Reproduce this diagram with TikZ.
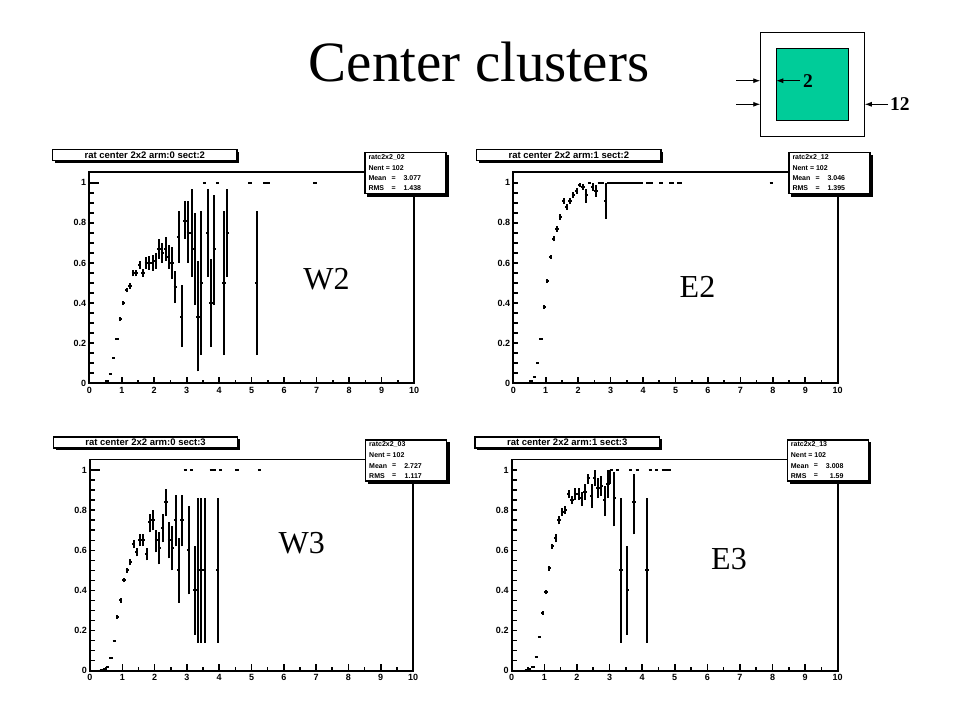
\documentclass[tikz,border=0pt]{standalone}
\usepackage{fontspec}
\setmainfont{Liberation Serif}
\newfontfamily\rootfont{Liberation Sans}
\usetikzlibrary{arrows.meta}
\definecolor{tealbox}{RGB}{0,204,153}
\tikzset{
 frm/.style={line width=1.8pt},
 tck/.style={line width=1.6pt},
 dat/.style={line width=2pt},
 lab/.style={font=\rootfont\bfseries\fontsize{9}{10}\selectfont, inner sep=0pt},
 boxs/.style={draw, line width=1.4pt, fill=white},
 stt/.style={font=\rootfont\bfseries\fontsize{7}{8}\selectfont, inner sep=0pt, anchor=west},
 ttl/.style={font=\rootfont\bfseries\fontsize{9.5}{10}\selectfont, inner sep=0pt},
 big/.style={font=\fontsize{32}{34}\selectfont, inner sep=0pt, anchor=base},
 arr/.style={-{Latex[length=7pt,width=5pt]}, line width=0.9pt},
}
\newcommand\ep[4]{\draw[dat] (#1-0.05,#2) -- (#1+0.05,#2) (#1,#3) -- (#1,#4);}
\newcommand\es[3]{\draw[dat] (#1-0.05,#2) -- (#1+0.05,#2) (#1,#2-#3) -- (#1,#2+#3);}
\newcommand\et[2]{\draw[dat] (#1-0.05,#2) -- (#1+0.05,#2);}
\newcommand\onebar[2]{\draw[dat] (#1,1) -- (#2,1);}
\newcommand\plotaxes[2]{%
 \draw[frm] (0,-211.3) rectangle (10*#1,0);
 \foreach \k in {0,...,20} \draw[tck] (0,-\k*10.03) -- (5,-\k*10.03);
 \foreach \k in {1,...,9} \draw[tck] (\k*#1,0) -- (\k*#1,-6.5);
 \foreach \k in {0,...,9} \draw[tck] (\k*#1+0.5*#1,0) -- (\k*#1+0.5*#1,-3.5);
 \foreach \t [count=\i] in {0,0.2,0.4,0.6,0.8,1} \node[lab,anchor=east] (#2y\i) at (-3,-\t*200.6) {\t};
 \foreach \t in {0,...,10} \node[lab,anchor=north] (#2x\t) at (\t*#1,3.5) {\t};
}
\newcommand\plotboxes[5]{%
 \fill (-34.3,-231.3) rectangle (150,-220.3);
 \node[boxs, ttl, minimum width=184.3pt, minimum height=11pt, inner sep=0pt, anchor=north west] (#1t) at (-37.3,-234.3) {#2};
 \fill (278,-228.3) rectangle (359.5,-186.8);
 \node[boxs, minimum width=81pt, minimum height=41pt, inner sep=0pt, anchor=north west] (#1s) at (275,-231.3) {};
 \node[stt] (#1sa) at (279,-226.3) {#3};
 \node[stt] (#1sb) at (279,-215.3) {Nent = 102};
 \node[stt] (#1sc) at (279,-205) {Mean};
 \node[stt] (#1sce) at (302,-205) {=};
 \node[stt,anchor=east] (#1scv) at (332,-205) {#4};
 \node[stt] (#1sd) at (279,-195) {RMS};
 \node[stt] (#1sde) at (302,-195) {=};
 \node[stt,anchor=east] (#1sdv) at (332,-195) {#5};
}
\begin{document}
\begin{tikzpicture}[x=1pt,y=-1pt]
\useasboundingbox[fill=white] (0,0) rectangle (960,720);

\node[font=\fontsize{57}{60}\selectfont, inner sep=0pt, anchor=base] (title) at (479,81.7) {Center clusters};

% inset
\node[draw, line width=0.9pt, fill=white, minimum size=103.6pt, inner sep=0pt] (outer) at (812.5,84.2) {};
\node[draw, line width=0.9pt, fill=tealbox, minimum size=71.6pt, inner sep=0pt] (inner) at (812.5,84.2) {};
\coordinate (la) at (736,80.7);
\coordinate (lb) at (736,104.3);
\draw[arr] (la) -- (la -| outer.west);
\draw[arr] (lb) -- (lb -| outer.west);
\node[font=\bfseries\fontsize{19.5}{20}\selectfont, inner sep=0pt, anchor=west] (n2) at (803,80.7) {2};
\draw[arr] ([xshift=-3pt]n2.west) -- (n2.west -| inner.west);
\node[font=\bfseries\fontsize{19.5}{20}\selectfont, inner sep=0pt, anchor=west] (n12) at (890,104.3) {12};
\draw[arr] ([xshift=-2pt]n12.west) -- (n12.west -| outer.east);

% ---------- W2 ----------
\begin{scope}[shift={(89.3,383.3)}]
\plotaxes{32.47}{pa}
\begin{scope}[x=32.47pt,y=200.6pt]
\onebar{0.1}{0.3}
\et{0.55}{0.01}\et{0.65}{0.045}\et{0.75}{0.125}\et{0.85}{0.22}
\es{0.95}{0.32}{0.01}\es{1.05}{0.40}{0.01}\es{1.15}{0.465}{0.012}\es{1.25}{0.487}{0.015}
\es{1.35}{0.548}{0.015}\es{1.45}{0.548}{0.015}\es{1.55}{0.59}{0.02}\es{1.65}{0.55}{0.02}
\es{1.75}{0.60}{0.03}\es{1.85}{0.60}{0.035}\es{1.95}{0.60}{0.04}\es{2.05}{0.61}{0.04}
\es{2.15}{0.67}{0.05}\es{2.25}{0.65}{0.05}\es{2.35}{0.67}{0.06}\es{2.45}{0.63}{0.06}
\es{2.55}{0.60}{0.08}
\ep{2.65}{0.48}{0.40}{0.56}\ep{2.75}{0.73}{0.60}{0.86}\ep{2.85}{0.33}{0.18}{0.49}
\ep{2.95}{0.81}{0.72}{0.91}\ep{3.05}{0.75}{0.60}{0.91}\ep{3.15}{0.75}{0.53}{0.97}
\ep{3.25}{0.67}{0.39}{0.85}\ep{3.35}{0.33}{0.06}{0.61}\ep{3.45}{0.50}{0.14}{0.86}
\ep{3.65}{0.75}{0.53}{0.97}\ep{3.75}{0.40}{0.18}{0.62}\ep{3.85}{0.67}{0.39}{0.94}
\ep{4.15}{0.50}{0.14}{0.86}\ep{4.25}{0.75}{0.53}{0.97}\ep{5.15}{0.50}{0.14}{0.86}
\onebar{3.5}{3.6}\onebar{3.9}{4.0}\onebar{4.9}{5.0}\onebar{5.35}{5.55}\onebar{6.9}{7.0}
\end{scope}
\plotboxes{pa}{rat center 2x2 arm:0 sect:2}{ratc2x2\_02}{3.077}{1.438}
\end{scope}

% ---------- E2 ----------
\begin{scope}[shift={(513.3,383.3)}]
\plotaxes{32.44}{pb}
\begin{scope}[x=32.44pt,y=200.6pt]
\et{0.55}{0.01}\et{0.65}{0.03}\et{0.75}{0.10}\et{0.85}{0.22}
\es{0.95}{0.38}{0.01}\es{1.05}{0.51}{0.01}\es{1.15}{0.63}{0.01}\es{1.25}{0.72}{0.012}
\es{1.35}{0.77}{0.015}\es{1.45}{0.83}{0.015}\es{1.55}{0.91}{0.015}\es{1.65}{0.88}{0.015}
\es{1.75}{0.91}{0.015}\es{1.85}{0.94}{0.015}\es{1.95}{0.96}{0.015}\es{2.05}{0.99}{0.01}
\es{2.15}{0.98}{0.015}
\ep{2.25}{0.94}{0.90}{0.97}\ep{2.45}{0.98}{0.96}{1.0}\ep{2.55}{0.96}{0.93}{0.99}
\ep{2.85}{0.91}{0.82}{1.0}
\onebar{2.3}{2.4}\onebar{2.6}{2.8}\onebar{2.9}{4.0}\onebar{4.1}{4.3}\onebar{4.5}{4.6}
\onebar{4.8}{4.95}\onebar{5.05}{5.2}\onebar{7.9}{8.0}
\end{scope}
\plotboxes{pb}{rat center 2x2 arm:1 sect:2}{ratc2x2\_12}{3.046}{1.395}
\end{scope}

% ---------- W3 ----------
\begin{scope}[shift={(90,670.7)}]
\plotaxes{32.3}{pc}
\begin{scope}[x=32.3pt,y=200.6pt]
\onebar{0.1}{0.3}
\et{0.35}{0.005}\et{0.45}{0.01}\et{0.55}{0.02}\et{0.65}{0.065}\et{0.75}{0.15}
\es{0.85}{0.27}{0.01}\es{0.95}{0.35}{0.01}\es{1.05}{0.45}{0.01}\es{1.15}{0.50}{0.012}
\es{1.25}{0.54}{0.015}\es{1.35}{0.63}{0.02}\es{1.45}{0.59}{0.02}\es{1.55}{0.65}{0.03}
\es{1.65}{0.65}{0.03}\es{1.75}{0.58}{0.03}
\ep{1.85}{0.74}{0.69}{0.78}\ep{1.95}{0.75}{0.70}{0.80}\ep{2.05}{0.65}{0.59}{0.70}
\ep{2.15}{0.61}{0.53}{0.69}\ep{2.25}{0.71}{0.64}{0.78}\ep{2.35}{0.84}{0.77}{0.905}
\ep{2.45}{0.65}{0.56}{0.74}\ep{2.55}{0.61}{0.50}{0.72}\ep{2.65}{0.75}{0.62}{0.875}
\ep{2.75}{0.50}{0.34}{0.66}\ep{2.85}{0.75}{0.62}{0.875}\ep{3.05}{0.60}{0.38}{0.82}
\ep{3.25}{0.40}{0.18}{0.62}\ep{3.35}{0.5}{0.14}{0.86}\ep{3.45}{0.5}{0.14}{0.86}
\ep{3.55}{0.5}{0.14}{0.86}\ep{3.95}{0.5}{0.14}{0.86}
\onebar{2.9}{3.0}\onebar{3.1}{3.2}\onebar{3.7}{3.9}\onebar{4.0}{4.1}\onebar{4.5}{4.6}\onebar{5.2}{5.3}
\end{scope}
\plotboxes{pc}{rat center 2x2 arm:0 sect:3}{ratc2x2\_03}{2.727}{1.117}
\end{scope}

% ---------- E3 ----------
\begin{scope}[shift={(511.7,670.7)}]
\plotaxes{32.6}{pd}
\begin{scope}[x=32.6pt,y=200.6pt]
\et{0.45}{0.005}\et{0.55}{0.01}\et{0.65}{0.02}\et{0.75}{0.07}\et{0.85}{0.17}
\es{0.95}{0.29}{0.01}\es{1.05}{0.39}{0.01}\es{1.15}{0.51}{0.012}\es{1.25}{0.62}{0.012}
\es{1.35}{0.66}{0.02}\es{1.45}{0.75}{0.02}\es{1.55}{0.79}{0.02}\es{1.65}{0.80}{0.02}
\es{1.75}{0.88}{0.02}\es{1.85}{0.85}{0.02}\es{1.95}{0.88}{0.03}
\ep{2.05}{0.88}{0.85}{0.91}\ep{2.15}{0.86}{0.82}{0.89}\ep{2.25}{0.89}{0.85}{0.93}
\ep{2.35}{0.96}{0.93}{0.98}\ep{2.45}{0.87}{0.81}{0.93}\ep{2.55}{0.96}{0.92}{1.0}
\ep{2.65}{0.91}{0.86}{0.96}\ep{2.75}{0.92}{0.87}{0.97}\ep{2.85}{0.85}{0.77}{0.92}
\ep{2.95}{0.93}{0.86}{1.0}\ep{3.15}{0.86}{0.72}{0.99}\ep{3.35}{0.5}{0.14}{0.86}
\ep{3.55}{0.40}{0.18}{0.62}\ep{3.75}{0.84}{0.68}{0.98}\ep{4.15}{0.5}{0.14}{0.86}
\draw[dat] (3.0,0.93) -- (3.0,1);
\onebar{3.0}{3.1}\onebar{3.2}{3.3}\onebar{3.6}{3.7}\onebar{3.8}{3.9}\onebar{4.2}{4.3}
\onebar{4.4}{4.5}\onebar{4.6}{4.9}
\end{scope}
\plotboxes{pd}{rat center 2x2 arm:1 sect:3}{ratc2x2\_13}{3.008}{1.59}
\end{scope}

\node[big] (w2) at (326.5,289.3) {W2};
\node[big] (e2) at (697.5,297.3) {E2};
\node[big] (w3) at (301.7,553.3) {W3};
\node[big] (e3) at (729,569.5) {E3};
\end{tikzpicture}
\end{document}
